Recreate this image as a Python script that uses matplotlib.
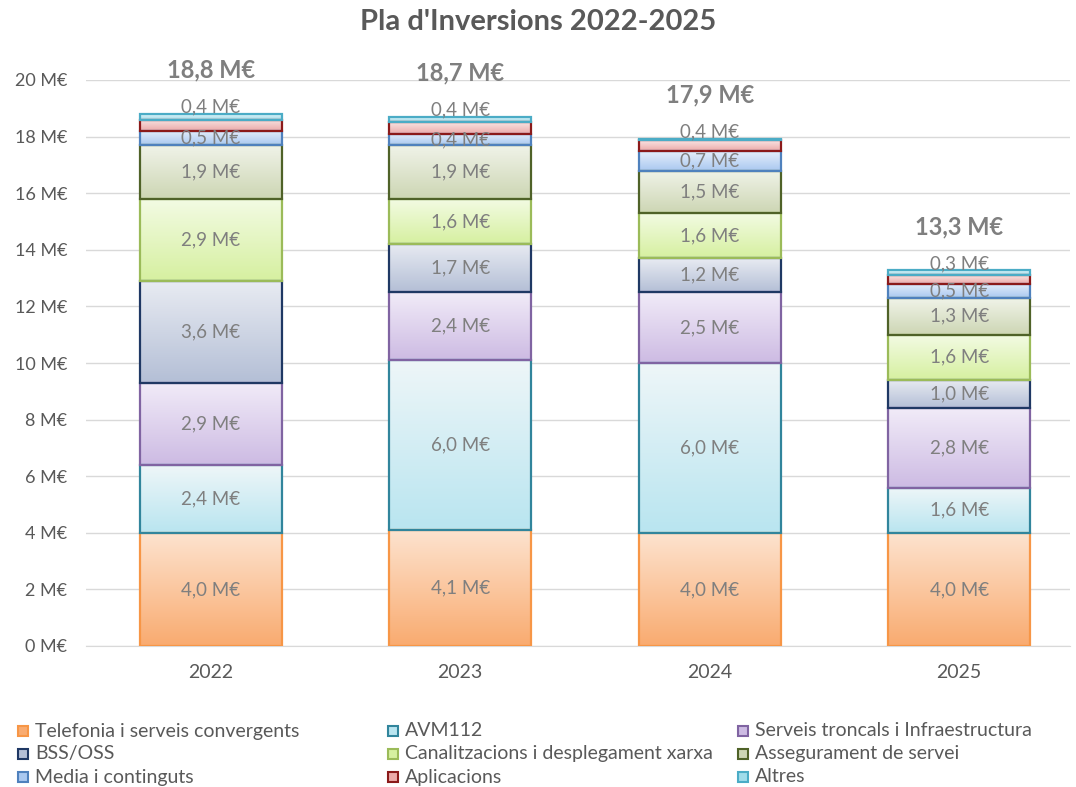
import numpy as np
import matplotlib
matplotlib.use("Agg")
import matplotlib.pyplot as plt
from matplotlib.colors import to_rgb
from matplotlib.patches import Rectangle

plt.rcParams['font.family'] = ['Lato', 'DejaVu Sans']

years = ["2022", "2023", "2024", "2025"]
series_names = [
    "Telefonia i serveis convergents", "AVM112", "Serveis troncals i Infraestructura",
    "BSS/OSS", "Canalitzacions i desplegament xarxa", "Assegurament de servei",
    "Media i continguts", "Aplicacions", "Altres",
]

telefonia = [4.0, 4.1, 4.0, 4.0]
avm112 = [2.4, 6.0, 6.0, 1.6]
serveis = [2.9, 2.4, 2.5, 2.8]
bss = [3.6, 1.7, 1.2, 1.0]
canal = [2.9, 1.6, 1.6, 1.6]
asseg = [1.9, 1.9, 1.5, 1.3]
media = [0.5, 0.4, 0.7, 0.5]
aplicacions = [0.4, 0.4, 0.38, 0.3]
altres = [0.2, 0.2, 0.05, 0.17]

series = [telefonia, avm112, serveis, bss, canal, asseg, media, aplicacions, altres]

edge_colors = ["#f79646", "#31859c", "#8064a2", "#1f3864", "#9bbb59",
               "#4f6228", "#4f81bd", "#8b1a1a", "#4bacc6"]
bottom_colors = ["#f9ab70", "#b9e5f0", "#cdbbe3", "#b4bfd6", "#d6f0a0",
                 "#cdd6b4", "#a9c8f0", "#ecaaa8", "#9fdcea"]
top_colors = ["#fde3cf", "#eef6f8", "#f1ebf8", "#e8ebf2", "#f3fbe4",
              "#f0f3e8", "#e6effb", "#f8e4e4", "#dff3f8"]

W, H = 1076, 787
fig = plt.figure(figsize=(W / 100, H / 100), dpi=100)
ax = fig.add_axes([86 / W, 141 / H, 984 / W, 566 / H])

x = np.arange(len(years))
width = 0.57
bottoms = np.zeros(len(years))
grey = "#7f7f7f"


def fmt(v):
    return f"{v:.1f}".replace('.', ',') + " M€"


for i, vals in enumerate(series):
    vals = np.array(vals)
    bars = ax.bar(x, vals, width, bottom=bottoms, facecolor="none",
                  edgecolor=edge_colors[i], linewidth=1.6, zorder=3)
    c0 = np.array(to_rgb(bottom_colors[i]))
    c1 = np.array(to_rgb(top_colors[i]))
    t = np.linspace(0, 1, 64)[:, None]
    grad = (c0[None, :] * (1 - t) + c1[None, :] * t)[:, None, :]
    for j, b in enumerate(bars):
        x0 = b.get_x()
        ax.imshow(grad, extent=(x0, x0 + width, bottoms[j], bottoms[j] + vals[j]),
                  origin="lower", aspect="auto", zorder=2, interpolation="bilinear")
    bottoms = bottoms + vals

# segment labels
cum = np.zeros(len(years))
for i, vals in enumerate(series):
    vals = np.array(vals)
    for j in range(len(years)):
        if i == 8:
            continue
        if i == 7:
            ypos = bottoms[j] + 0.25
        else:
            ypos = cum[j] + vals[j] / 2
        ax.text(x[j], ypos, fmt(vals[j]), ha="center", va="center",
                fontsize=13.5, color=grey, zorder=5, clip_on=False)
    cum = cum + vals

for j in range(len(years)):
    ax.text(x[j], bottoms[j] + 1.55, fmt(bottoms[j]), ha="center", va="center",
            fontsize=17, fontweight="bold", color=grey, clip_on=False)

ax.set_xlim(-0.5, 3.444)
ax.set_ylim(0, 20)
ax.set_yticks(np.arange(0, 21, 2))
ax.set_yticklabels([f"{v} M€" for v in range(0, 21, 2)])
ax.set_xticks(x)
ax.set_xticklabels(years)
ax.tick_params(axis="both", length=0, colors="#595959")
ax.tick_params(axis="y", pad=13.5, labelsize=13)
ax.tick_params(axis="x", pad=13, labelsize=14)
ax.grid(axis="y", color="#d9d9d9", linewidth=1, zorder=0)
ax.set_axisbelow(True)
for s in ["top", "right", "left"]:
    ax.spines[s].set_visible(False)
ax.spines["bottom"].set_color("#d9d9d9")

fig.text(0.5, 1 - 22 / H, "Pla d'Inversions 2022-2025", ha="center", va="center",
         fontsize=21, fontweight="bold", color="#595959")

# legend (3 columns x 3 rows, row-wise order)
col_x = [18, 388, 738]
row_y = [731, 754, 777]
for k, name in enumerate(series_names):
    r, c = divmod(k, 3)
    mx, my = col_x[c], row_y[r]
    fig.patches.append(Rectangle((mx / W, 1 - (my + 5) / H), 10 / W, 10 / H,
                                 transform=fig.transFigure, facecolor=bottom_colors[k],
                                 edgecolor=edge_colors[k], linewidth=1.5))
    fig.text((mx + 17) / W, 1 - my / H, name, ha="left", va="center",
             fontsize=14, color="#595959")

fig.savefig("out.png", dpi=100)
